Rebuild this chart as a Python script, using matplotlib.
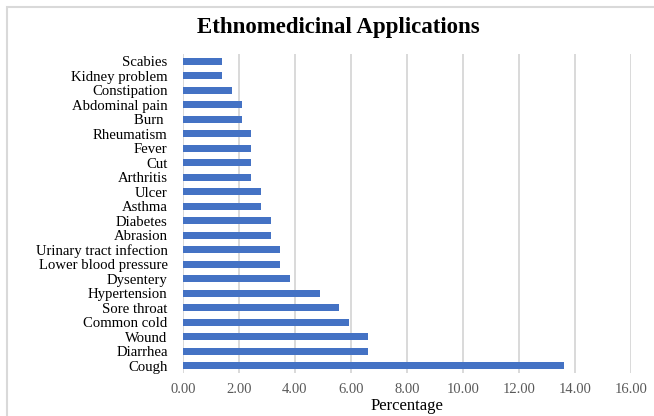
import matplotlib
matplotlib.use("Agg")
import matplotlib.pyplot as plt
from matplotlib.patches import Rectangle

categories = [
    "Cough", "Diarrhea", "Wound", "Common cold", "Sore throat", "Hypertension",
    "Dysentery", "Lower blood pressure", "Urinary tract infection", "Abrasion",
    "Diabetes", "Asthma", "Ulcer", "Arthritis", "Cut", "Fever", "Rheumatism",
    "Burn ", "Abdominal pain", "Constipation", "Kidney problem", "Scabies",
]
percentages = [
    13.59, 6.62, 6.62, 5.92, 5.57, 4.88,
    3.83, 3.48, 3.48, 3.14,
    3.14, 2.79, 2.79, 2.44, 2.44, 2.44, 2.44,
    2.09, 2.09, 1.74, 1.39, 1.39,
]
xticks = [0, 2, 4, 6, 8, 10, 12, 14, 16]

plt.rcParams["font.family"] = ["Liberation Serif", "DejaVu Serif"]

fig = plt.figure(figsize=(6.54, 4.16), dpi=100)
fig.patch.set_facecolor("white")

# chart-area frame
fig.patches.append(Rectangle((7 / 654, -0.05), 1.2, 1 - 7 / 416 + 0.05,
                             transform=fig.transFigure, fill=False,
                             edgecolor="#d9d9d9", linewidth=1.5))

ax = fig.add_axes([183 / 654, 1 - 373 / 416, (631 - 183) / 654, (373 - 54) / 416])
y = list(range(len(categories)))
ax.barh(y, percentages, height=0.5, color="#4472C4", zorder=3)

ax.set_xlim(0, 16)
ax.set_ylim(-0.5, len(categories) - 0.5)
ax.set_xticks(xticks)
ax.set_xticklabels([f"{v:.2f}" for v in xticks], fontsize=10.5, color="#595959")
ax.set_yticks(y)
ax.set_yticklabels(categories, fontsize=10.6, color="black")
ax.tick_params(axis="both", length=0)
ax.tick_params(axis="y", pad=11)
ax.tick_params(axis="x", pad=7)
ax.grid(axis="x", color="#d9d9d9", linewidth=1.4, zorder=0)
for s in ax.spines.values():
    s.set_visible(False)

ax.set_xlabel("Percentage", fontsize=12, labelpad=2)
fig.text(0.517, 1 - 28 / 416, "Ethnomedicinal Applications", ha="center",
         va="center", fontsize=16.5, fontweight="bold")

fig.savefig("out.png", dpi=100)
